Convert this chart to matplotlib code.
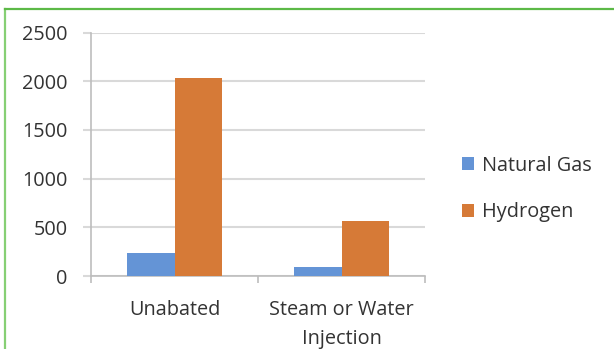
import matplotlib
matplotlib.use("Agg")
import matplotlib.pyplot as plt
from matplotlib.lines import Line2D
import numpy as np

categories = ["Unabated", "Steam or Water\nInjection"]
series_names = ["Natural Gas", "Hydrogen"]
natural_gas = [240, 90]
hydrogen = [2030, 560]
y_ticks = [0, 500, 1000, 1500, 2000, 2500]

blue = "#6494d6"
orange = "#d67a37"
text_color = "#333333"
grid_color = "#d9d9d9"
axis_color = "#bdbdbd"
font = ["Open Sans", "DejaVu Sans"]
fsize = 14.3

fig = plt.figure(figsize=(6.14, 3.49), dpi=100)
fig.patch.set_facecolor("white")

# green frame around the chart (left and top edges visible)
fig.add_artist(Line2D([4.7 / 614, 4.7 / 614], [0, 1 - 8.5 / 349],
                      transform=fig.transFigure, color="#86cf74", lw=1.6))
fig.add_artist(Line2D([4.7 / 614, 1.0], [1 - 8.5 / 349, 1 - 8.5 / 349],
                      transform=fig.transFigure, color="#5cb947", lw=1.6))

ax = fig.add_axes([91 / 614, 1 - 276 / 349, (425 - 91) / 614, (276 - 32.5) / 349])

x = np.arange(len(categories))
w = 0.285
ax.bar(x - w / 2, natural_gas, width=w, color=blue, label=series_names[0], zorder=3)
ax.bar(x + w / 2, hydrogen, width=w, color=orange, label=series_names[1], zorder=3)

ax.set_xlim(-0.5, len(categories) - 0.5)
ax.set_ylim(0, 2500)
ax.set_yticks(y_ticks)
ax.set_yticklabels([str(v) for v in y_ticks], fontfamily=font, fontsize=fsize,
                   color=text_color)
ax.yaxis.grid(True, color=grid_color, lw=1.5, zorder=0)
ax.tick_params(axis="y", length=6, width=1.5, color=grid_color, pad=11)

# category boundaries as major ticks, labels on minor ticks
ax.set_xticks(np.arange(-0.5, len(categories), 1.0))
ax.set_xticklabels([])
ax.set_xticks(x, minor=True)
ax.set_xticklabels(categories, minor=True, fontfamily=font, fontsize=fsize,
                   color=text_color, linespacing=1.6)
ax.tick_params(axis="x", which="major", length=5, width=1.2, color=axis_color)
ax.tick_params(axis="x", which="minor", length=0, pad=17)

for side in ["top", "right"]:
    ax.spines[side].set_visible(False)
ax.spines["left"].set_color(axis_color)
ax.spines["left"].set_linewidth(1.2)
ax.spines["bottom"].set_color(axis_color)
ax.spines["bottom"].set_linewidth(1.2)

leg = ax.legend(loc="center left", bbox_to_anchor=(462 / 614, 1 - 189 / 349),
                bbox_transform=fig.transFigure, frameon=False,
                prop={"family": font, "size": fsize}, handlelength=0.6,
                handleheight=0.6, handletextpad=0.4, labelspacing=1.35,
                borderaxespad=0, borderpad=0)
for t in leg.get_texts():
    t.set_color(text_color)

fig.savefig("out.png", dpi=100)
